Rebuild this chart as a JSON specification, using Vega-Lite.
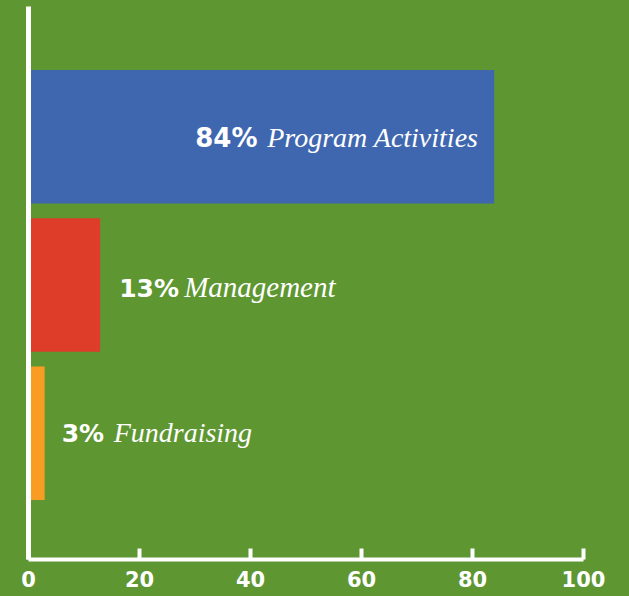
{
  "$schema": "https://vega.github.io/schema/vega-lite/v6.json",
  "autosize": "none",
  "width": 555,
  "height": 553,
  "padding": {"left": 28, "top": 6, "right": 46, "bottom": 37},
  "background": "#5E9732",
  "config": {"view": {"stroke": null}},
  "data": {"values": [
    {"category": "Program Activities", "value": 84, "pct": "84%"},
    {"category": "Management", "value": 13, "pct": "13%"},
    {"category": "Fundraising", "value": 3, "pct": "3%"}
  ]},
  "encoding": {
    "y": {"field": "category", "type": "nominal", "sort": null,
      "scale": {"paddingInner": 0.1, "paddingOuter": 0.415, "align": 0.52},
      "axis": {"labels": false, "ticks": false, "title": null, "domainColor": "white", "domainWidth": 5, "zindex": 1}},
    "x": {"field": "value", "type": "quantitative",
      "scale": {"domain": [0, 100]},
      "axis": {"values": [0, 20, 40, 60, 80, 100], "title": null, "grid": false,
        "domainColor": "white", "domainWidth": 4, "tickColor": "white", "tickWidth": 4, "tickSize": -11,
        "labelColor": "white", "labelFont": "DejaVu Sans", "labelFontWeight": "bold", "labelFontSize": 21,
        "labelPadding": 21, "labelFlush": false, "zindex": 1}}
  },
  "layer": [
    {"mark": {"type": "bar"},
     "encoding": {"color": {"field": "category", "type": "nominal", "legend": null,
       "scale": {"domain": ["Program Activities", "Management", "Fundraising"], "range": ["#3F67B0", "#DD3D29", "#F89C23"]}}}},
    {"transform": [{"filter": "datum.category === 'Program Activities'"}],
     "mark": {"type": "text", "align": "left", "baseline": "alphabetic", "dx": -299, "dy": 10, "font": "DejaVu Sans", "fontWeight": "bold", "fontSize": 26, "color": "white"},
     "encoding": {"text": {"field": "pct"}}},
    {"transform": [{"filter": "datum.category === 'Program Activities'"}],
     "mark": {"type": "text", "align": "left", "baseline": "alphabetic", "dx": -227, "dy": 10, "font": "Liberation Serif", "fontStyle": "italic", "fontSize": 28, "color": "white"},
     "encoding": {"text": {"field": "category"}}},
    {"transform": [{"filter": "datum.category === 'Management'"}],
     "mark": {"type": "text", "align": "left", "baseline": "alphabetic", "dx": 19, "dy": 12, "font": "DejaVu Sans", "fontWeight": "bold", "fontSize": 25, "color": "white"},
     "encoding": {"text": {"field": "pct"}}},
    {"transform": [{"filter": "datum.category === 'Management'"}],
     "mark": {"type": "text", "align": "left", "baseline": "alphabetic", "dx": 84, "dy": 12, "font": "Liberation Serif", "fontStyle": "italic", "fontSize": 29, "color": "white"},
     "encoding": {"text": {"field": "category"}}},
    {"transform": [{"filter": "datum.category === 'Fundraising'"}],
     "mark": {"type": "text", "align": "left", "baseline": "alphabetic", "dx": 17, "dy": 9, "font": "DejaVu Sans", "fontWeight": "bold", "fontSize": 25, "color": "white"},
     "encoding": {"text": {"field": "pct"}}},
    {"transform": [{"filter": "datum.category === 'Fundraising'"}],
     "mark": {"type": "text", "align": "left", "baseline": "alphabetic", "dx": 69, "dy": 9, "font": "Liberation Serif", "fontStyle": "italic", "fontSize": 28, "color": "white"},
     "encoding": {"text": {"field": "category"}}}
  ]
}
